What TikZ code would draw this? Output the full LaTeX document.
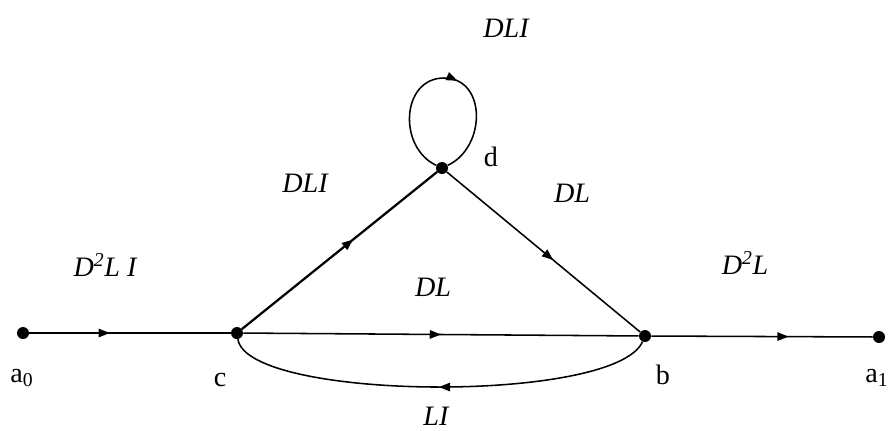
\documentclass[tikz,border=0pt]{standalone}
\usepackage{fontspec}
\setmainfont{Liberation Serif}
\usetikzlibrary{arrows.meta,decorations.markings}
\tikzset{
  vertex/.style={circle, fill=black, inner sep=0pt, minimum size=3mm},
  gain/.style={font=\fontsize{20}{24}\selectfont\itshape},
  vname/.style={font=\fontsize{20}{24}\selectfont},
  flow/.style={line width=1.1pt},
  midarrow/.style={decoration={markings,
      mark=at position #1 with {\arrow{Triangle[length=8pt,width=6pt]}}},
    postaction={decorate}},
  midarrow/.default=0.5
}
\begin{document}
\begin{tikzpicture}[x=0.025cm, y=-0.025cm]
  \useasboundingbox (0,0) rectangle (890,430);
  % vertices
  \node[vertex] (a0) at (23,333) {};
  \node[vertex] (c) at (237,333) {};
  \node[vertex] (d) at (442,168) {};
  \node[vertex] (b) at (645,336) {};
  \node[vertex] (a1) at (879,337) {};
  \coordinate (dtop) at (444,78);

  % vertex names
  \node[vname] (la0) at (22,378) {a\textsubscript{0}};
  \node[vname] (lc) at (220,380) {c};
  \node[vname] (ld) at (491,157) {d};
  \node[vname] (lb) at (663,375) {b};
  \node[vname] (la1) at (877,378) {a\textsubscript{1}};

  % branch gains
  \node[gain] (g0) at (105,265) {D\textsuperscript{2}L I};
  \node[gain] (gcd) at (305,183) {DLI};
  \node[gain] (gdd) at (506,28) {DLI};
  \node[gain] (gdb) at (572,193) {DL};
  \node[gain] (gcb) at (433,287) {DL};
  \node[gain] (gbc) at (436,416) {LI};
  \node[gain] (g1) at (745,263) {D\textsuperscript{2}L};

  % branches
  \draw[flow, midarrow=0.4] (a0) -- (c);
  \draw[flow, midarrow] (c) -- (b);
  \draw[flow, line width=1.6pt, midarrow=0.57] (c) -- (d);
  \draw[flow, midarrow=0.55] (d) -- (b);
  \draw[flow, midarrow=0.62] (b) -- (a1);
  \draw[flow, midarrow=0.56] (d) to[out=155, in=180, looseness=1.25] (dtop)
    to[out=0, in=25, looseness=1.25] (d);
  \draw[flow, midarrow] (b) .. controls +(-30,68) and +(10,68) .. (c);
\end{tikzpicture}
\end{document}
